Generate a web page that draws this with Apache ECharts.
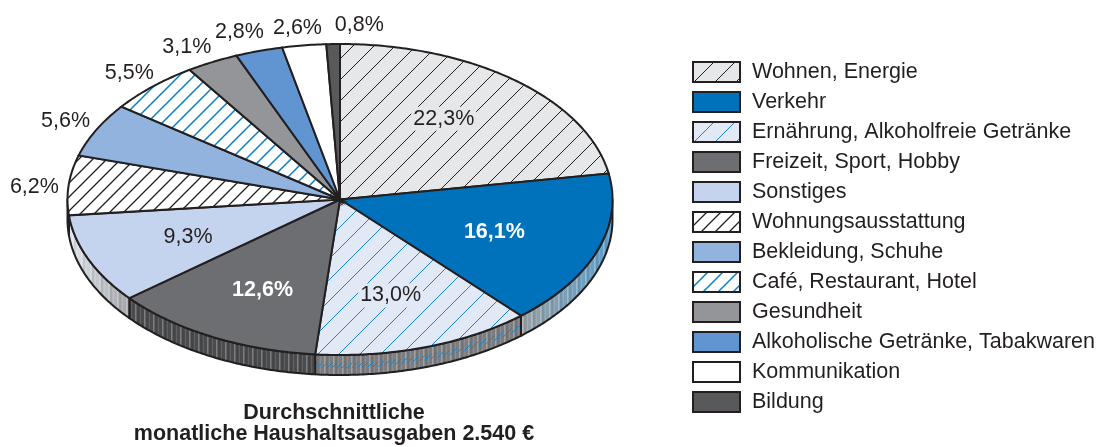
<!DOCTYPE html>
<html>
<head>
<meta charset="utf-8">
<title>Haushaltsausgaben</title>
<style>
  html, body { margin: 0; padding: 0; background: #fff; }
  #main { width: 1099px; height: 447px; }
</style>
<script src="https://cdn.jsdelivr.net/npm/echarts@6/dist/echarts.min.js"></script>
</head>
<body>
<div id="main"></div>
<script>
var categories = ['Wohnen, Energie', 'Verkehr', 'Ernährung, Alkoholfreie Getränke', 'Freizeit, Sport, Hobby',
  'Sonstiges', 'Wohnungsausstattung', 'Bekleidung, Schuhe', 'Café, Restaurant, Hotel', 'Gesundheit',
  'Alkoholische Getränke, Tabakwaren', 'Kommunikation', 'Bildung'];
var shares = [22.3, 16.1, 13.0, 12.6, 9.3, 6.2, 5.6, 5.5, 3.1, 2.8, 2.6, 0.8];
var titleText = 'Durchschnittliche\nmonatliche Haushaltsausgaben 2.540 €';

// layout of the tilted disc
var cx = 340, cy = 199.5, rx = 272.5, ry = 155.5, depth = 20;
var ink = '#231f20';
var font = '"Liberation Sans", Arial, sans-serif';
var fontSize = 21.5;

// label placement: radius factor on the ellipse + small manual nudges (px)
var labelRadius = [0.63, 0.62, 0.63, 0.63, 0.62, 1.13, 1.13, 1.13, 1.13, 1.13, 1.13, 1.13];
var labelNudgeX = [-7, -5, -3, 3, 4, 1, 1, 1, -9, -9, -2, 27];
var labelNudgeY = [-6, 1, 3, 4, 1, 4, 0, 1, 3, 0, 3, 1];
var labelWhite = [false, true, false, true, false, false, false, false, false, false, false, false];

function hatch(size, bg, line, width) {
  var c = document.createElement('canvas');
  c.width = c.height = size;
  var ctx = c.getContext('2d');
  if (bg) { ctx.fillStyle = bg; ctx.fillRect(0, 0, size, size); }
  ctx.strokeStyle = line;
  ctx.lineWidth = width;
  ctx.beginPath();
  ctx.moveTo(-2, size + 2);
  ctx.lineTo(size + 2, -2);
  ctx.moveTo(-2, 2);
  ctx.lineTo(2, -2);
  ctx.moveTo(size - 2, size + 2);
  ctx.lineTo(size + 2, size - 2);
  ctx.stroke();
  return { image: c, repeat: 'repeat' };
}

function stripes() {
  var c = document.createElement('canvas');
  c.width = 9; c.height = 4;
  var ctx = c.getContext('2d');
  ctx.fillStyle = 'rgba(255,255,255,0.28)';
  ctx.fillRect(0, 0, 1.5, 4);
  ctx.fillStyle = 'rgba(255,255,255,0.12)';
  ctx.fillRect(5, 0, 1, 4);
  ctx.fillStyle = 'rgba(0,0,0,0.08)';
  ctx.fillRect(2, 0, 2, 4);
  return { image: c, repeat: 'repeat' };
}

function sideFade(a, b) {
  return { type: 'linear', x: 0, y: 0, x2: 1, y2: 0, colorStops: [{ offset: 0, color: a }, { offset: 1, color: b }] };
}

var baseFill = ['#e6e7e8', '#0072bc', '#e1e9f6', '#6d6e71', '#c5d4ee', '#ffffff', '#92b3de', '#ffffff', '#939598', '#6095d2', '#ffffff', '#58595b'];
var faces = [
  hatch(21, '#e6e7e8', ink, 1), '#0072bc', hatch(21, '#e1e9f6', '#1b83c6', 1), '#6d6e71', '#c5d4ee',
  hatch(14, '#ffffff', ink, 1.3), '#92b3de', hatch(15, '#ffffff', '#0a7fc2', 1.5), '#939598', '#6095d2', '#ffffff', '#58595b'
];
var walls = [
  '#888', sideFade('#9aa0a4', '#5b9fcb'), '#7b7d80', '#4a4b4d', sideFade('#dfe8ee', '#a3a5a8'), '#3a3a3c',
  '#888', '#888', '#888', '#888', '#888', '#888'
];

var stripePattern = stripes();
var wallHatch = hatch(5, null, '#1b83c6', 1);

var total = shares.reduce(function (a, b) { return a + b; }, 0);
var starts = [];
shares.reduce(function (sum, v, i) { starts[i] = sum; return sum + v; }, 0);

function angleOf(share) { return share / total * Math.PI * 2; }

function onEllipse(a, k, dy) {
  return [cx + rx * k * Math.sin(a), cy - ry * k * Math.cos(a) + (dy || 0)];
}

function arc(a0, a1, dy) {
  var pts = [];
  var n = Math.max(2, Math.ceil((a1 - a0) * 90));
  for (var i = 0; i <= n; i++) {
    pts.push(onEllipse(a0 + (a1 - a0) * i / n, 1, dy));
  }
  return pts;
}

function band(a0, a1, top, bottom) {
  return arc(a0, a1, top).concat(arc(a0, a1, bottom).reverse());
}

// the rim, only the front half of the disc shows it
function renderWall(params, api) {
  var i = params.dataIndex;
  var a0 = Math.max(angleOf(starts[i]), Math.PI / 2);
  var a1 = Math.min(angleOf(starts[i] + api.value(0)), Math.PI * 1.5);
  if (a1 <= a0) return null;
  var pts = band(a0, a1, 0, depth);
  var kids = [
    { type: 'polygon', shape: { points: pts }, style: { fill: walls[i], stroke: null } },
    { type: 'polygon', shape: { points: pts }, style: { fill: stripePattern, stroke: null } }
  ];
  if (i === 2) {
    kids.push({ type: 'polygon', shape: { points: band(a0, a1, 8, 13) }, style: { fill: wallHatch, stroke: null } });
  }
  kids.push({ type: 'polygon', shape: { points: pts }, style: { fill: 'none', stroke: ink, lineWidth: 2, lineJoin: 'round' } });
  return { type: 'group', children: kids };
}

function makeSlice(i) {
  return function (params, api) {
    var a0 = angleOf(starts[i]);
    var a1 = angleOf(starts[i] + api.value(0));
    var mid = (a0 + a1) / 2;
    var pts = [[cx, cy]].concat(arc(a0, a1, 0));
    var at = onEllipse(mid, labelRadius[i], 0);
    return {
      type: 'group',
      children: [
        { type: 'polygon', shape: { points: pts }, style: { fill: faces[i], stroke: ink, lineWidth: 2, lineJoin: 'miter' } },
        {
          type: 'text', z2: 50,
          style: {
            x: at[0] + labelNudgeX[i], y: at[1] + labelNudgeY[i],
            text: api.value(0).toFixed(1).replace('.', ',') + '%',
            align: 'center', verticalAlign: 'middle',
            font: (labelWhite[i] ? 'bold ' : '') + fontSize + 'px ' + font,
            fill: labelWhite[i] ? '#ffffff' : ink,
            backgroundColor: labelRadius[i] < 1 ? baseFill[i] : null,
            padding: labelRadius[i] < 1 ? [1, 2] : 0
          }
        }
      ]
    };
  };
}

var series = [{
  name: 'Rand', type: 'custom', coordinateSystem: 'none', silent: true, z: 1,
  renderItem: renderWall,
  data: shares.map(function (v) { return [v]; })
}];
categories.forEach(function (name, i) {
  series.push({
    name: name, type: 'custom', coordinateSystem: 'none', silent: true, z: 2,
    itemStyle: { color: faces[i], borderColor: ink, borderWidth: 2 },
    renderItem: makeSlice(i),
    data: [[shares[i]]]
  });
});

var chart = echarts.init(document.getElementById('main'), null, { renderer: 'canvas' });
chart.setOption({
  animation: false,
  backgroundColor: '#fff',
  title: {
    text: titleText, left: 329, top: 398, textAlign: 'center',
    textStyle: { fontFamily: font, fontWeight: 'bold', fontSize: fontSize, lineHeight: 21, color: ink }
  },
  legend: {
    data: categories.map(function (name, i) {
      return { name: name, icon: 'rect', itemStyle: { color: faces[i], borderColor: ink, borderWidth: 2 } };
    }),
    orient: 'vertical', left: 688, top: 57, padding: 4,
    itemWidth: 47, itemHeight: 20, itemGap: 8, selectedMode: false,
    textStyle: { fontFamily: font, fontSize: fontSize, lineHeight: 21, color: ink, padding: [0, 0, 0, 7] }
  },
  series: series
});
</script>
</body>
</html>
